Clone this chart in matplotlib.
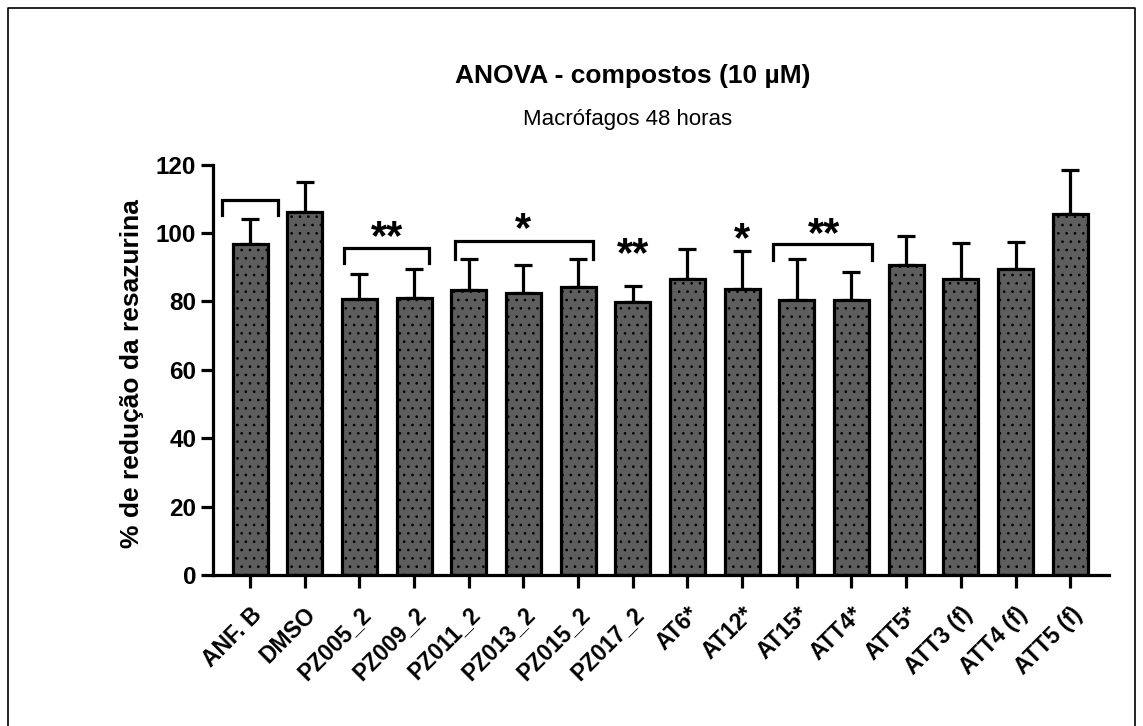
import matplotlib
matplotlib.use("Agg")
import matplotlib.pyplot as plt
from matplotlib.lines import Line2D

plt.rcParams['font.family'] = ['Liberation Sans', 'DejaVu Sans']
plt.rcParams['hatch.linewidth'] = 0.7
plt.rcParams['hatch.color'] = 'black'

categories = ["ANF. B", "DMSO", "PZ005_2", "PZ009_2", "PZ011_2", "PZ013_2", "PZ015_2",
              "PZ017_2", "AT6*", "AT12*", "AT15*", "ATT4*", "ATT5*", "ATT3 (f)",
              "ATT4 (f)", "ATT5 (f)"]
means = [96.7, 106.2, 80.6, 81.0, 83.4, 82.5, 84.1, 79.9, 86.5, 83.6, 80.3, 80.3,
         90.7, 86.5, 89.6, 105.5]
sd = [7.3, 8.7, 7.4, 8.5, 9.1, 8.2, 8.4, 4.6, 8.8, 11.2, 12.1, 8.2, 8.4, 10.5, 7.9, 13.0]
yticks = [0, 20, 40, 60, 80, 100, 120]

# significance annotations: (first idx, last idx, left ext, right ext, bracket top, leg bottom, stars, star centre y)
brackets = [(0, 0, 0.52, 0.52, 109.7, 105.3, "", None),
            (2, 3, 0.29, 0.28, 95.6, 91.2, "**", 100.9),
            (4, 6, 0.26, 0.27, 97.7, 92.4, "*", 103.2),
            (10, 11, 0.43, 0.37, 96.8, 92.1, "**", 101.9)]
single_stars = [(7, "**", 96.0), (9, "*", 100.4)]

W, H = 1143, 726
fig = plt.figure(figsize=(W / 100, H / 100), dpi=100)
ax = fig.add_axes([213 / W, 1 - 575 / H, (1109 - 213) / W, (575 - 164.7) / H])

x = list(range(len(categories)))
ax.bar(x, means, width=0.64, color='#5e5e5e', edgecolor='black', linewidth=2.3,
       hatch='..', zorder=2)
ax.errorbar(x, means, yerr=[[0] * len(sd), sd], fmt='none', ecolor='black',
            elinewidth=2.3, capsize=6.8, capthick=2.3, zorder=1)

ax.set_xlim(-0.677, 15.71)
ax.set_ylim(0, 120)
ax.set_yticks(yticks)
ax.set_xticks(x)
ax.set_xticklabels(categories, rotation=45, ha='right', rotation_mode='anchor',
                   fontsize=16.5, fontweight='bold')
for lab in ax.get_yticklabels():
    lab.set_fontsize(17.5)
    lab.set_fontweight('bold')
for s in ['top', 'right']:
    ax.spines[s].set_visible(False)
for s in ['left', 'bottom']:
    ax.spines[s].set_linewidth(2.3)
ax.tick_params(axis='both', length=9, width=2.3, pad=3)
ax.tick_params(axis='x', pad=11)
ax.set_ylabel("% de redução da resazurina", fontsize=19, fontweight='bold')
ax.yaxis.set_label_coords((144 - 213) / (1109 - 213), 0.49)

STAR_FS = 30
star_off = 8.3  # data units from text bottom to glyph centre at STAR_FS
for i0, i1, le, re, top, leg, stars, sy in brackets:
    xl, xr = i0 - le, i1 + re
    ax.add_line(Line2D([xl, xl, xr, xr], [leg, top, top, leg], color='black',
                       lw=2.3, clip_on=False, solid_joinstyle='miter'))
    if stars:
        ax.text((i0 + i1) / 2, sy - star_off, stars, ha='center', va='bottom',
                fontsize=STAR_FS, fontweight='bold', clip_on=False)
for i, stars, sy in single_stars:
    ax.text(i, sy - star_off, stars, ha='center', va='bottom', fontsize=STAR_FS,
            fontweight='bold', clip_on=False)

fig.text(633 / W, 1 - 76 / H, "ANOVA - compostos (10 µM)", ha='center', va='center',
         fontsize=19, fontweight='bold')
fig.text(628 / W, 1 - 119 / H, "Macrófagos 48 horas", ha='center', va='center',
         fontsize=16)

# outer frame
fig.add_artist(Line2D([8 / W, 8 / W, 1135 / W, 1135 / W], [0, 1 - 8 / H, 1 - 8 / H, 0],
                      transform=fig.transFigure, color='black', lw=1.2))

fig.savefig("out.png", dpi=100)
